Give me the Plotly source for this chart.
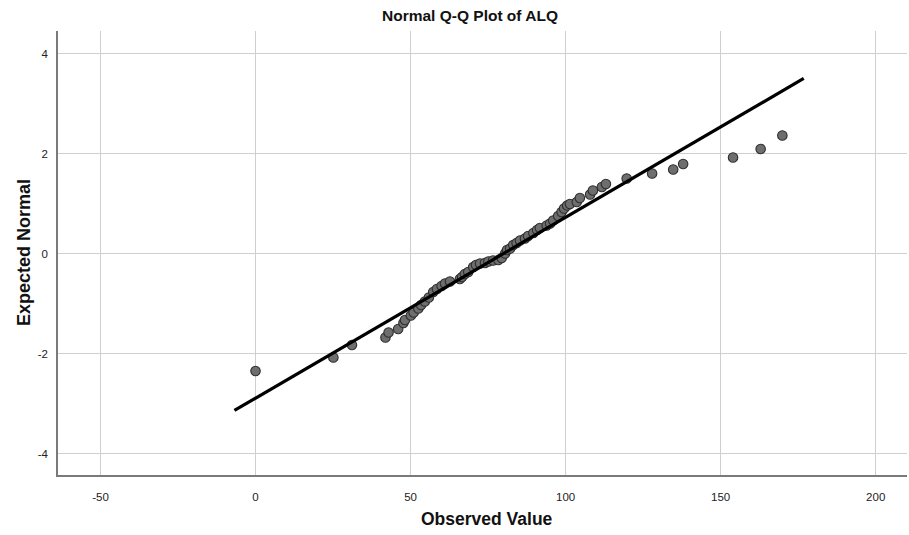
import plotly.graph_objects as go

# Observed ALQ values and their expected normal scores
observed = [0.0, 25.1, 31.1, 41.9, 42.9, 46.0, 47.7, 48.2, 50.1, 51.0,
            52.5, 53.4, 54.6, 55.9, 57.3, 58.5, 60.0, 61.1, 62.7, 65.9,
            66.6, 67.5, 68.6, 70.2, 71.1, 72.4, 74.0, 75.1, 76.6, 78.3,
            79.4, 80.5, 81.1, 82.1, 83.1, 84.2, 85.3, 86.9, 87.9, 89.6,
            90.8, 91.7, 93.9, 95.0, 96.0, 97.6, 98.7, 99.5, 100.5, 101.4,
            103.6, 104.6, 107.9, 108.8, 111.7, 113.0, 119.7, 127.9, 134.7, 137.9,
            154.0, 162.9, 169.9]
expected = [-2.35, -2.08, -1.83, -1.68, -1.58, -1.51, -1.39, -1.33, -1.24, -1.18,
            -1.10, -1.03, -0.96, -0.88, -0.77, -0.71, -0.65, -0.60, -0.56, -0.51,
            -0.47, -0.41, -0.37, -0.27, -0.23, -0.20, -0.19, -0.16, -0.14, -0.13,
            -0.09, 0.00, 0.07, 0.10, 0.17, 0.21, 0.26, 0.30, 0.35, 0.41,
            0.47, 0.51, 0.56, 0.60, 0.66, 0.75, 0.83, 0.90, 0.96, 0.99,
            1.03, 1.11, 1.18, 1.26, 1.33, 1.39, 1.50, 1.60, 1.68, 1.79,
            1.92, 2.09, 2.36]

# Reference normal line
mean_alq = 80.0
sd_alq = 27.65
line_x = [-6.8, 176.8]
line_y = [(v - mean_alq) / sd_alq for v in line_x]

x_ticks = [-50, 0, 50, 100, 150, 200]
x_labels = ["-50", "0", "50", "100", "150", "200"]
y_ticks = [-4, -2, 0, 2, 4]
y_labels = ["-4", "-2", "0", "2", "4"]

FONT = "Liberation Sans, Arial, sans-serif"

fig = go.Figure()
fig.add_trace(go.Scatter(
    x=observed, y=expected, mode="markers",
    marker=dict(size=9.5, color="#6e6e6e", line=dict(color="#2e2e2e", width=1.1)),
    showlegend=False, cliponaxis=False,
))
fig.add_trace(go.Scatter(
    x=line_x, y=line_y, mode="lines",
    line=dict(color="#000000", width=3.2),
    showlegend=False,
))

axis_common = dict(
    showgrid=True, gridcolor="#cfcfcf", gridwidth=1,
    zeroline=False, showline=True, linecolor="#7a7a7a", linewidth=1.5,
    ticks="", tickfont=dict(family=FONT, size=11.5, color="#222222"),
    mirror=False,
)

fig.update_layout(
    width=909, height=535,
    margin=dict(l=58, r=2, t=31, b=60),
    plot_bgcolor="white", paper_bgcolor="white",
    xaxis=dict(range=[-63.7, 210.1], tickvals=x_ticks, ticktext=x_labels,
               ticklabelstandoff=10, **axis_common),
    yaxis=dict(range=[-4.43, 4.45], tickvals=y_ticks, ticktext=y_labels,
               ticklabelstandoff=6, **axis_common),
    annotations=[
        dict(text="<b>Normal Q-Q Plot of ALQ</b>", xref="paper", yref="paper",
             x=0.485, y=1, yshift=26, showarrow=False,
             font=dict(family=FONT, size=15.5, color="#111111")),
        dict(text="<b>Observed Value</b>", xref="paper", yref="paper",
             x=0.505, y=0, yshift=-56, showarrow=False,
             font=dict(family=FONT, size=17.5, color="#111111")),
        dict(text="<b>Expected Normal</b>", xref="paper", yref="paper",
             x=0, y=0.5, xshift=-46, textangle=-90, showarrow=False,
             font=dict(family=FONT, size=18, color="#111111")),
    ],
)

fig.write_html("out.html")
